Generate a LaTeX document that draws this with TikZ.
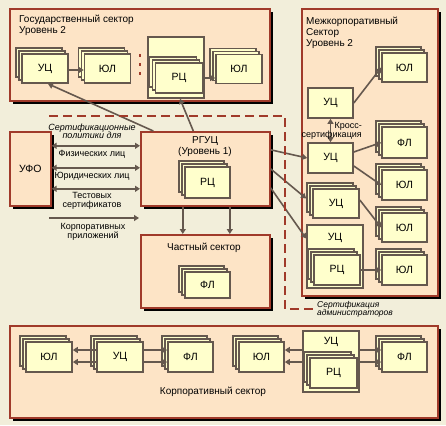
\documentclass[tikz,border=0pt]{standalone}
\usepackage{fontspec}
\setmainfont{Liberation Sans}
\usetikzlibrary{arrows.meta,shadows}
\definecolor{bgcol}{HTML}{F2EEDA}
\definecolor{panelfill}{HTML}{FDE4C6}
\definecolor{panelred}{HTML}{A03A2A}
\definecolor{boxfill}{HTML}{FFFFCC}
\definecolor{boxline}{HTML}{65584E}
\def\tip{Triangle[length=5pt,width=6pt]}
\tikzset{
  panel/.style={draw=panelred, fill=panelfill, line width=1.6pt, inner sep=0pt, anchor=north west,
    drop shadow={shadow xshift=3pt, shadow yshift=-3pt, opacity=1, fill=black},
    font=\fontsize{10.5}{12}\selectfont},
  box/.style={draw=boxline, fill=boxfill, line width=1.6pt, inner sep=0pt,
    minimum width=46pt, minimum height=29pt, font=\fontsize{10.5}{12}\selectfont},
  pile/.style={box,
    copy shadow={shadow xshift=-6pt, shadow yshift=6pt, draw=boxline, fill=boxfill, line width=1.6pt},
    copy shadow={shadow xshift=-3pt, shadow yshift=3pt, draw=boxline, fill=boxfill, line width=1.6pt}},
  link/.style={draw=boxline, line width=1.6pt, -{\tip}},
  dlink/.style={draw=boxline, line width=1.6pt, {\tip}-{\tip}},
  caption/.style={inner sep=0pt, align=left, font=\fontsize{10}{11}\selectfont},
  tag/.style={inner sep=0pt, align=center, font=\fontsize{9}{8.5}\selectfont},
  admin/.style={draw=panelred, line width=1.8pt, dash pattern=on 9pt off 5pt},
  redmarks/.style={draw=panelred, line width=2pt, dash pattern=on 3pt off 6pt}
}
\begin{document}
\begin{tikzpicture}[x=1pt, y=-1pt]
  \fill[bgcol] (0,0) rectangle (446,425);
  \useasboundingbox (0,0) rectangle (446,425);

  % panels
  \node[panel, minimum width=260pt, minimum height=92pt] (gov) at (9,8) {};
  \node[panel, minimum width=136pt, minimum height=287pt] (inter) at (301,8) {};
  \node[panel, minimum width=41pt, minimum height=74pt] (ufo) at (9,131) {УФО};
  \node[panel, minimum width=129pt, minimum height=74pt] (rguc) at (140,131) {};
  \node[panel, minimum width=129pt, minimum height=73pt] (priv) at (140,234) {};
  \node[panel, minimum width=428pt, minimum height=92pt] (corp) at (9,325) {};

  \node[caption, anchor=north west] (govtxt) at (19,15) {Государственный сектор\\Уровень 2};
  \node[caption, anchor=north west] (intertxt) at (306,17) {Межкорпоративный\\Сектор\\Уровень 2};
  \node[caption, align=center] (rguctxt) at (205,147) {РГУЦ\\(Уровень 1)};
  \node[caption] (privtxt) at (204,248) {Частный сектор};
  \node[caption] (corptxt) at (213,392) {Корпоративный сектор};

  % government sector
  \node[pile] (guc) at (45,68.5) {УЦ};
  \node[pile] (gul) at (107.5,68.5) {ЮЛ};
  \draw[redmarks] (140,54) -- (140,76);
  \node[box, minimum width=56pt, minimum height=61pt] (grc) at (176,67.5) {};
  \node[pile, minimum width=47pt, minimum height=30pt] (grcin) at (179,78) {РЦ};
  \node[pile] (gul2) at (239,69) {ЮЛ};
  \draw[link] ([yshift=-1.5pt]guc.east) -- ([yshift=-1.5pt]gul.west);
  \draw[link] (grcin.east) -- (grcin.east -| gul2.west);

  % inter-corporate sector
  \node[box, minimum width=45pt, minimum height=30pt] (iuc1) at (330.5,103) {УЦ};
  \node[pile, minimum width=45pt] (iul1) at (404.5,67.5) {ЮЛ};
  \node[box, minimum width=45pt, minimum height=30pt] (iuc2) at (330.5,158) {УЦ};
  \node[pile, minimum width=45pt, minimum height=31pt] (ifl1) at (404.5,142.5) {ФЛ};
  \node[pile, minimum width=45pt, minimum height=30pt] (iul2) at (404.5,185) {ЮЛ};
  \node[pile] (iuc3) at (336,203.5) {УЦ};
  \node[pile, minimum width=45pt] (iul3) at (404.5,227.5) {ЮЛ};
  \node[box, minimum width=56pt, minimum height=63pt] (iuc4) at (335,256.5) {};
  \node[caption, font=\fontsize{10.5}{12}\selectfont] (iuc4txt) at (335,238) {УЦ};
  \node[pile, minimum height=30pt] (irc) at (337,270) {РЦ};
  \node[pile, minimum width=45pt, minimum height=30pt] (iul4) at (404.5,270) {ЮЛ};
  \draw[link] (iuc1.east) -- (iul1.west);
  \draw[dlink] (iuc2.north) -- (iuc1.south);
  \node[tag, align=right, anchor=east] (cross) at (362,131) {Кросс-\\сертификация};
  \draw[link] ([yshift=6pt]iuc2.east) -- (ifl1.west);
  \draw[link] ([yshift=-8pt]iuc2.east) -- (iul2.west);
  \draw[link] ([yshift=3.5pt]iuc3.east) -- (iul3.west);
  \draw[link] (irc.east) -- (irc.east -| iul4.west);

  % root centre
  \node[pile, minimum width=45pt, minimum height=31pt] (rrc) at (207.5,182.5) {РЦ};
  \draw[dlink] ([yshift=23pt]ufo.east) -- ([yshift=23pt]rguc.west);
  \draw[dlink] ([yshift=1pt]ufo.east) -- ([yshift=1pt]rguc.west);
  \draw[dlink] ([yshift=-20pt]ufo.east) -- ([yshift=-20pt]rguc.west);
  \coordinate (corpin) at (49,218);
  \coordinate (corpout) at (139,218);
  \draw[link] (corpin) -- (corpout);
  \node[tag, font=\fontsize{9}{8.5}\selectfont\itshape] (poltxt) at (92,131.5) {Сертификационные\\политики для};
  \node[tag] (fltxt) at (92,154) {Физических лиц};
  \node[tag] (ultxt) at (92,176) {Юридических лиц};
  \node[tag] (testtxt) at (92,201) {Тестовых\\сертификатов};
  \node[tag] (apptxt) at (93,232) {Корпоративных\\приложений};

  \draw[link] ([xshift=-52pt]rguc.north) -- ([xshift=3pt]guc.south);
  \draw[link] ([xshift=-12pt]rguc.north) -- ([xshift=4pt]grc.south);
  \draw[link] ([yshift=19pt]rguc.east) -- (iuc2.west);
  \draw[link] (rguc.east) -- ([xshift=-6pt,yshift=5pt]iuc3.west);
  \draw[link] ([yshift=-19pt]rguc.east) -- ([yshift=18pt]iuc4.west);

  % private sector
  \node[pile, minimum width=45pt, minimum height=26pt] (pfl) at (207.5,285) {ФЛ};
  \draw[link] ([xshift=-22.5pt]rguc.south) -- ([xshift=-22.5pt]priv.north);
  \draw[link] ([xshift=24.5pt]rguc.south) -- ([xshift=24.5pt]priv.north);

  \draw[admin] (49,116) -- (285,116) -- (285,309) -- (313,309);
  \node[tag, font=\fontsize{8.5}{8}\selectfont\itshape, anchor=west, align=left] (admtxt) at (317,309) {Сертификация\\администраторов};

  % corporate sector
  \node[pile, minimum height=30pt] (cul1) at (49,357) {ЮЛ};
  \node[pile, minimum height=30pt] (cuc1) at (120,357) {УЦ};
  \node[pile, minimum width=45pt, minimum height=30pt] (cfl1) at (190.5,357) {ФЛ};
  \node[pile, minimum width=45pt, minimum height=30pt] (cul2) at (261.5,357) {ЮЛ};
  \node[box, minimum width=56pt, minimum height=61pt] (cuc2) at (331,361.5) {};
  \node[caption, font=\fontsize{10.5}{12}\selectfont] (cuc2txt) at (331,342) {УЦ};
  \node[pile, minimum width=47pt, minimum height=30pt] (crc) at (333.5,373) {РЦ};
  \node[pile, minimum width=45pt, minimum height=30pt] (cfl2) at (404.5,357) {ФЛ};
  \draw[link] ([yshift=7pt]cuc1.west) -- ([yshift=7pt]cul1.east);
  \draw[link] ([yshift=-5pt]cuc1.west) -- ([yshift=-5pt]cul1.east);
  \draw[link] ([yshift=7pt]cuc1.east) -- ([yshift=7pt]cfl1.west);
  \draw[link] ([yshift=-5pt]cuc1.east) -- ([yshift=-5pt]cfl1.west);
  \draw[link] ([yshift=7pt]cuc2.west |- cul2.east) -- ([yshift=7pt]cul2.east);
  \draw[link] ([yshift=-5pt]cuc2.west |- cul2.east) -- ([yshift=-5pt]cul2.east);
  \draw[link] ([yshift=7pt]cuc2.east |- cfl2.west) -- ([yshift=7pt]cfl2.west);
  \draw[link] ([yshift=-5pt]cuc2.east |- cfl2.west) -- ([yshift=-5pt]cfl2.west);
\end{tikzpicture}
\end{document}
